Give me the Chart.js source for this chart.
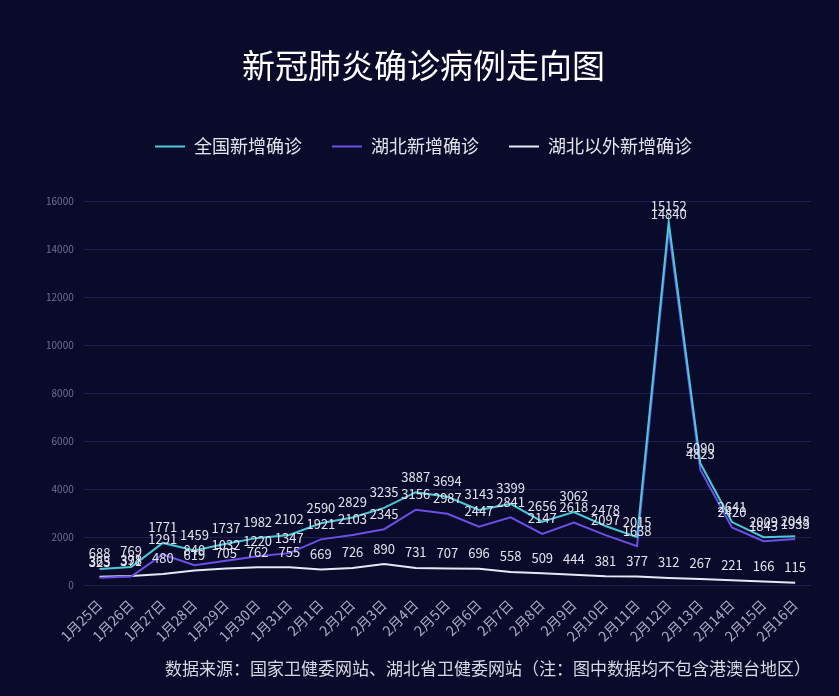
<!DOCTYPE html>
<html><head><meta charset="utf-8">
<script src="https://cdn.jsdelivr.net/npm/chart.js@4"></script>
<style>
html,body{margin:0;padding:0;background:#0a0b2b;}
#wrap{width:839px;height:696px;position:relative;background:#0a0b2b;}
</style></head>
<body><div id="wrap"><canvas id="c" width="839" height="696"></canvas></div>
<script>
const categories = ["1月25日","1月26日","1月27日","1月28日","1月29日","1月30日","1月31日","2月1日","2月2日","2月3日","2月4日","2月5日","2月6日","2月7日","2月8日","2月9日","2月10日","2月11日","2月12日","2月13日","2月14日","2月15日","2月16日"];
const national = [688,769,1771,1459,1737,1982,2102,2590,2829,3235,3887,3694,3143,3399,2656,3062,2478,2015,15152,5090,2641,2009,2048];
const hubei = [323,371,1291,840,1032,1220,1347,1921,2103,2345,3156,2987,2447,2841,2147,2618,2097,1638,14840,4823,2420,1843,1933];
const outside = [365,398,480,619,705,762,755,669,726,890,731,707,696,558,509,444,381,377,312,267,221,166,115];
const yTicks = [0,2000,4000,6000,8000,10000,12000,14000,16000];

const FONT = '"Noto Sans CJK SC","Noto Sans",sans-serif';

const labelPlugin = {
  id: 'pointLabels',
  beforeInit(chart) {
    const lg = chart.legend;
    if (lg) {
      const orig = lg.fit;
      lg.fit = function() { orig.call(this); this.height += 36; };
    }
  },
  afterDatasetsDraw(chart) {
    const ctx = chart.ctx;
    ctx.save();
    ctx.font = '13px ' + FONT;
    ctx.fillStyle = '#e2e2ec';
    ctx.textAlign = 'center';
    ctx.textBaseline = 'bottom';
    chart.data.datasets.forEach((ds, i) => {
      const meta = chart.getDatasetMeta(i);
      meta.data.forEach((pt, j) => {
        ctx.fillText(String(ds.data[j]), pt.x, pt.y - 9);
      });
    });
    ctx.restore();
  }
};

new Chart(document.getElementById('c'), {
  type: 'line',
  data: {
    labels: categories,
    datasets: [
      {label:'全国新增确诊', data: national, borderColor:'#4cc9d6', backgroundColor:'#4cc9d6', borderWidth:2, pointRadius:0, tension:0},
      {label:'湖北新增确诊', data: hubei, borderColor:'#6b4fe6', backgroundColor:'#6b4fe6', borderWidth:2, pointRadius:0, tension:0},
      {label:'湖北以外新增确诊', data: outside, borderColor:'#e8e8f4', backgroundColor:'#e8e8f4', borderWidth:2, pointRadius:0, tension:0}
    ]
  },
  options: {
    responsive: false,
    animation: false,
    layout: {padding: {left: 36, right: 28, top: 46, bottom: 17}},
    plugins: {
      title: {display:true, text:'新冠肺炎确诊病例走向图', color:'#ffffff', font:{size:33, family:FONT, weight:'normal'}, padding:{top:0, bottom:22}},
      subtitle: {display:true, position:'bottom', text:'数据来源：国家卫健委网站、湖北省卫健委网站（注：图中数据均不包含港澳台地区）', color:'#d8d8e4', font:{size:17, family:FONT}, padding:{top:11, bottom:0}, align:'end'},
      legend: {display:true, labels:{
        color:'#e4e4ee', font:{size:18, family:FONT}, boxWidth:30, boxHeight:2, padding:30,
        generateLabels(chart){
          const items = Chart.defaults.plugins.legend.labels.generateLabels(chart);
          items.forEach(it => { it.lineWidth = 0; });
          return items;
        }
      }},
      tooltip: {enabled:false}
    },
    scales: {
      x: {
        offset: true,
        grid: {display:false},
        border: {display:false},
        ticks: {color:'#a9abc6', font:{size:14, family:FONT}, maxRotation:45, minRotation:45, autoSkip:false}
      },
      y: {
        min: 0, max: 16000,
        afterBuildTicks(axis){ axis.ticks = yTicks.map(v => ({value:v})); },
        grid: {color:'#1d2050', lineWidth:1, drawTicks:false},
        border: {display:false},
        ticks: {color:'#6d7093', font:{size:10, family:FONT}, padding:10, callback:(v)=>String(v)}
      }
    }
  },
  plugins: [labelPlugin]
});
</script></body></html>
